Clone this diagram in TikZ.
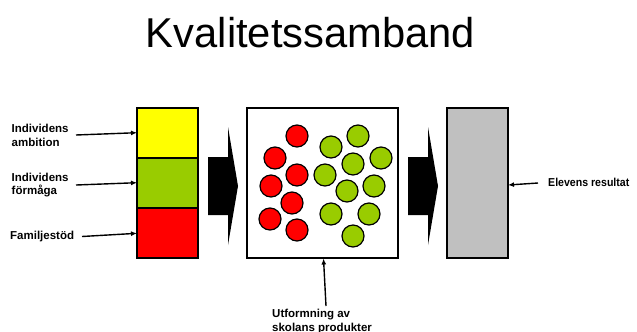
\documentclass[tikz,border=0pt]{standalone}
\usepackage{fontspec}
\setmainfont{Liberation Sans}
\usetikzlibrary{arrows.meta}
\definecolor{kyellow}{HTML}{FFFF00}
\definecolor{kgreen}{HTML}{99CC00}
\definecolor{kred}{HTML}{FF0000}
\definecolor{kgray}{HTML}{C0C0C0}
\tikzset{
  box/.style={draw=black, line width=1.3bp, inner sep=0pt, minimum width=61bp, minimum height=50bp},
  dot/.style={circle, draw=black, line width=1.2bp, inner sep=0pt, minimum size=22bp},
  reddot/.style={dot, fill=kred},
  greendot/.style={dot, fill=kgreen},
  lab/.style={font=\fontsize{11.5bp}{13.8bp}\selectfont\bfseries, align=left, inner sep=0pt, anchor=west},
  pointer/.style={line width=1.4bp, -{Latex[length=6bp,width=5bp]}},
  blockarrow/.style={fill=black, draw=none}
}
\begin{document}
\begin{tikzpicture}[x=1bp,y=-1bp]
\useasboundingbox (0,0) rectangle (637,331);
% title
\node[anchor=base, inner sep=0pt, font=\fontsize{41.7bp}{46bp}\selectfont] (title) at (310.5,47) {Kvalitetssamband};
% left stack
\node[box, fill=kyellow] (b1) at (167.5,133) {};
\node[box, fill=kgreen] (b2) at (167.5,183) {};
\node[box, fill=kred] (b3) at (167.5,233) {};
% middle box
\node[box, fill=white, minimum width=151bp, minimum height=150bp] (mid) at (322.5,183) {};
% gray box
\node[box, fill=kgray, minimum width=61bp, minimum height=150bp] (res) at (477.5,183) {};
% block arrows
\path[blockarrow] (208,157) -- (228,157) -- (228,127) -- (238,186) -- (228,245) -- (228,215) -- (208,215) -- cycle;
\path[blockarrow] (408,157) -- (428,157) -- (428,127) -- (438,186) -- (428,245) -- (428,215) -- (408,215) -- cycle;
% circles
\node[reddot] (r1) at (297,136) {};
\node[reddot] (r2) at (275,158) {};
\node[reddot] (r3) at (297,175) {};
\node[reddot] (r4) at (271,186) {};
\node[reddot] (r5) at (292,203) {};
\node[reddot] (r6) at (270,219) {};
\node[reddot] (r7) at (297,230) {};
\node[greendot] (g1) at (358,136) {};
\node[greendot] (g2) at (331,147) {};
\node[greendot] (g3) at (381,158) {};
\node[greendot] (g4) at (353,164) {};
\node[greendot] (g5) at (325,175) {};
\node[greendot] (g6) at (374,186) {};
\node[greendot] (g7) at (347,191) {};
\node[greendot] (g8) at (331,214) {};
\node[greendot] (g9) at (369,214) {};
\node[greendot] (g10) at (353,236) {};
% labels
\node[lab] (l1) at (11.5,135) {Individens\\ambition};
\node[lab] (l2) at (11.5,185) {Individens\\förmåga};
\node[lab] (l3) at (10,237) {Familjestöd};
\node[lab] (l4) at (548,182) {\scalebox{0.92}[1]{Elevens resultat}};
\node[lab, anchor=base west] (l5) at (272,331) {Utformning av\\skolans produkter};
% connectors
\coordinate (t1) at (76,135);
\coordinate (t2) at (76,185);
\coordinate (t3) at (82,236.5);
\coordinate (t4) at (538,183);
\coordinate (t5) at (326,306);
\coordinate (e1) at (137,132.7);
\coordinate (e2) at (137,182.7);
\coordinate (e3) at (137,233.3);
\coordinate (e4) at (508,185);
\coordinate (e5) at (323.5,258.5);
\draw[pointer] (t1) -- (e1);
\draw[pointer] (t2) -- (e2);
\draw[pointer] (t3) -- (e3);
\draw[pointer] (t4) -- (e4);
\draw[pointer] (t5) -- (e5);
\end{tikzpicture}
\end{document}
